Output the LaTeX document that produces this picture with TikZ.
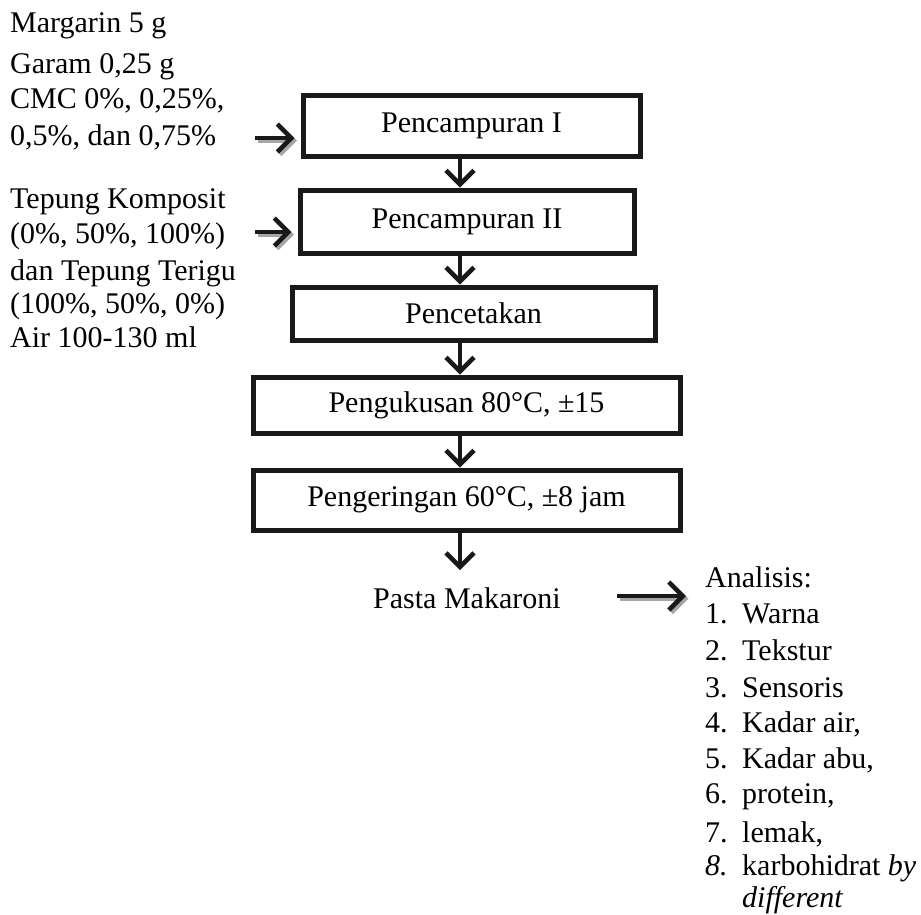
\documentclass[tikz,border=0pt]{standalone}
\usepackage{fontspec}
\setmainfont{Liberation Serif}
\usetikzlibrary{arrows.meta}
\begin{document}
\begin{tikzpicture}[x=1pt,y=-1pt,
  every node/.style={inner sep=0pt,font=\fontsize{30}{35}\selectfont},
  txt/.style={anchor=base west},
  stepbox/.style={draw=black!90,line width=5pt,rectangle},
  flow/.style={line width=4.5pt,black!90,-{Straight Barb[length=14pt,width=28pt]}},
  shade/.style={line width=4.5pt,black!35,-{Straight Barb[length=14pt,width=28pt]}}]
\useasboundingbox (0,0) rectangle (921,914);

% process boxes
\node[stepbox,minimum width=337pt,minimum height=61pt] (b1) at (471.5,125.5) {Pencampuran I};
\node[stepbox,minimum width=334pt,minimum height=63pt] (b2) at (467,221.5) {Pencampuran II};
\node[stepbox,minimum width=363pt,minimum height=53pt] (b3) at (473.5,313.5) {Pencetakan};
\node[stepbox,minimum width=427pt,minimum height=56pt] (b4) at (466.5,405) {Pengukusan 80°C, ±15};
\node[stepbox,minimum width=427pt,minimum height=60pt] (b5) at (466.5,500) {Pengeringan 60°C, ±8 jam};
\node[txt] (pasta) at (373,608) {Pasta Makaroni};

% ingredient lists
\node[txt] (i1) at (10,32) {Margarin 5 g};
\node[txt] (i2) at (10,73) {Garam 0,25 g};
\node[txt] (i3) at (10,108) {CMC 0\%, 0,25\%,};
\node[txt] (i4) at (10,145) {0,5\%, dan 0,75\%};
\node[txt] (j1) at (10,208) {Tepung Komposit};
\node[txt] (j2) at (10,243) {(0\%, 50\%, 100\%)};
\node[txt] (j3) at (10,280) {dan Tepung Terigu};
\node[txt] (j4) at (10,313) {(100\%, 50\%, 0\%)};
\node[txt] (j5) at (10,347) {Air 100-130 ml};

% analysis list
\node[txt] (an) at (705,587) {Analisis:};
\foreach \n/\t/\y in {1/Warna/623,2/Tekstur/660,3/Sensoris/697,4/{Kadar air,}/732,5/{Kadar abu,}/768,6/{protein,}/803,7/{lemak,}/842}{
  \node[txt] (n\n) at (705,\y) {\n.};
  \node[txt] (a\n) at (742,\y) {\t};
}
\node[txt] (n8) at (705,875) {\textit{8.}};
\node[txt] (a8) at (742,875) {karbohidrat \textit{by}};
\node[txt] (a8b) at (742,907) {\textit{different}};

% vertical flow arrows
\coordinate (ax) at (460,0);
\draw[flow] (b1.south -| ax) -- (b2.north -| ax);
\draw[flow] (b2.south -| ax) -- (b3.north -| ax);
\draw[flow] (b3.south -| ax) -- (b4.north -| ax);
\draw[flow] (b4.south -| ax) -- (b5.north -| ax);
\coordinate (pend) at (460,570);
\draw[flow] (b5.south -| ax) -- (pend);

% input arrows with grey shadow
\coordinate (s1) at (255,138);
\coordinate (s2) at (255,232);
\coordinate (s3) at (617,596);
\coordinate (t3) at (686,596);
\foreach \s/\b in {s1/b1,s2/b2}{
  \draw[shade,transform canvas={shift={(2.5pt,-2.5pt)}},shorten >=6pt] (\s) -- (\s -| \b.west);
  \draw[flow,shorten >=6pt] (\s) -- (\s -| \b.west);
}
\draw[shade,transform canvas={shift={(2.5pt,-2.5pt)}}] (s3) -- (t3);
\draw[flow] (s3) -- (t3);
\end{tikzpicture}
\end{document}
